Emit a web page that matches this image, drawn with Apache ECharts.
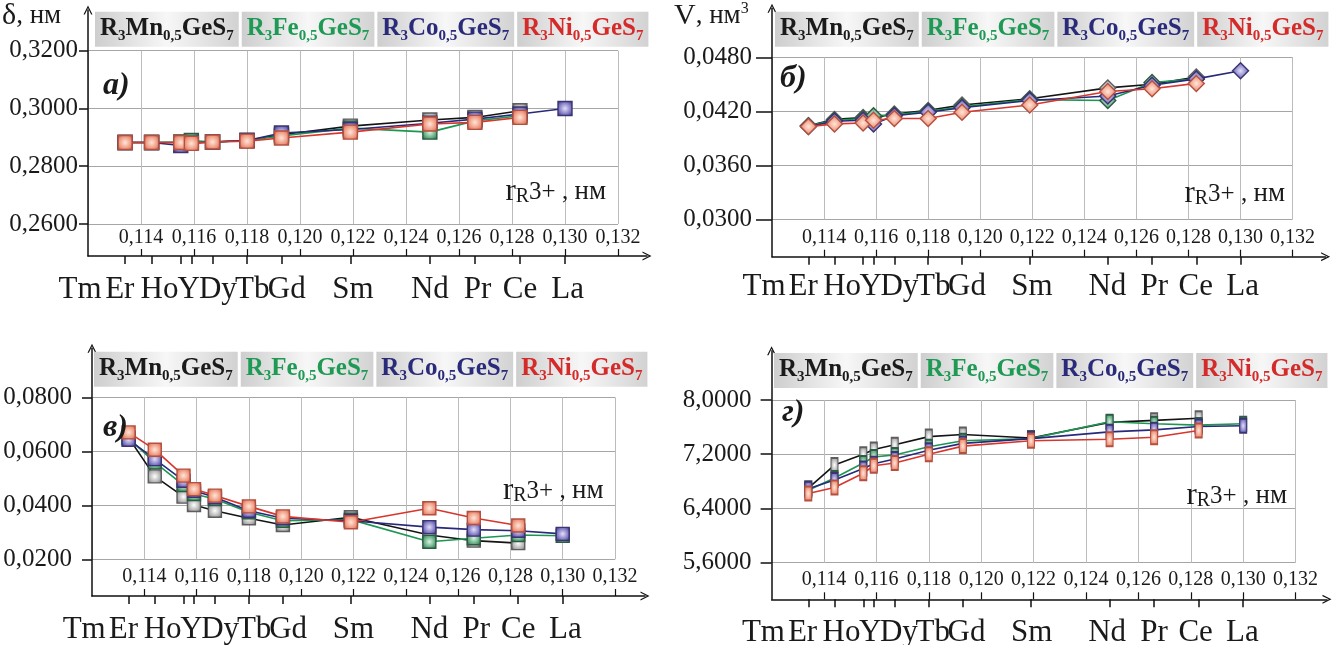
<!DOCTYPE html>
<html><head><meta charset="utf-8">
<script src="https://cdn.jsdelivr.net/npm/echarts@6/dist/echarts.min.js"></script>
<style>html,body{margin:0;padding:0;background:#fff;}#c{width:1344px;height:645px;}</style>
</head><body><div id="c"></div>
<script>
// ---------------- data ----------------
const elements = ['Tm','Er','Ho','Y','Dy','Tb','Gd','Sm','Nd','Pr','Ce','La'];
const ionicRadius = [0.1134,0.1144,0.1155,0.1159,0.1167,0.1180,0.1193,0.1219,0.1249,0.1266,0.1283,0.1300];
const radiusTicks = [0.114,0.116,0.118,0.120,0.122,0.124,0.126,0.128,0.130,0.132];
const metals = ['Mn','Fe','Co','Ni'];

// panel а: δ, нм
const deltaTicks = [0.26,0.28,0.30,0.32];
const deltaMn = [0.2882,0.2882,0.2882,0.2882,0.2884,0.2889,0.2909,0.2939,0.2960,0.2969,0.2992,null];
const deltaFe = [0.2882,0.2882,0.2884,0.2889,0.2884,0.2889,0.2905,0.2932,0.2918,0.2957,0.2975,null];
const deltaCo = [0.2882,0.2882,0.2872,0.2880,0.2884,0.2889,0.2915,0.2927,0.2949,0.2963,0.2981,0.3000];
const deltaNi = [0.2882,0.2882,0.2882,0.2879,0.2884,0.2887,0.2898,0.2918,0.2946,0.2952,0.2969,null];

// panel б: V, нм3
const volTicks = [0.030,0.036,0.042,0.048];
const volMn = [0.0404,0.0411,0.0413,0.0413,0.0417,0.0421,0.0427,0.0434,0.0446,0.0450,0.0458,null];
const volFe = [0.0404,0.0410,0.0412,0.0415,0.0416,0.0420,0.0425,0.0433,0.0432,0.0452,0.0456,null];
const volCo = [0.0403,0.0409,0.0410,0.0406,0.0415,0.0419,0.0424,0.0432,0.0437,0.0449,0.0456,0.0465];
const volNi = [0.0403,0.0406,0.0407,0.0410,0.0412,0.0412,0.0419,0.0427,0.0442,0.0445,0.0451,null];

// panel в
const cTicks = [0.02,0.04,0.06,0.08];
const cMn = [0.0650,0.0507,0.0432,0.0401,0.0380,0.0352,0.0327,0.0356,0.0290,0.0269,0.0260,null];
const cFe = [0.0648,0.0559,0.0475,0.0442,0.0423,0.0374,0.0343,0.0347,0.0265,0.0278,0.0290,0.0287];
const cCo = [0.0643,0.0571,0.0491,0.0454,0.0430,0.0380,0.0352,0.0343,0.0319,0.0310,0.0306,0.0294];
const cNi = [0.0670,0.0606,0.0510,0.0460,0.0436,0.0396,0.0359,0.0337,0.0389,0.0353,0.0325,null];

// panel г
const dTicks = [5.6,6.4,7.2,8.0];
const dMn = [6.70,7.04,7.20,7.27,7.34,7.46,7.49,7.44,7.67,7.70,7.73,null];
const dFe = [6.67,6.85,7.07,7.16,7.19,7.31,7.40,7.43,7.68,7.65,7.63,7.65];
const dCo = [6.69,6.82,6.99,7.06,7.13,7.26,7.36,7.43,7.53,7.56,7.61,7.62];
const dNi = [6.62,6.71,6.92,7.03,7.07,7.20,7.32,7.40,7.42,7.45,7.55,null];

// ---------------- layout / style ----------------
const FONT = '"Liberation Serif","Times New Roman",serif';
const X_MIN = 0.112, X_MAX = 0.132, LAB_MIN = 0.110, LAB_MAX = 0.134;
const elementLabelAt = [0.1117,0.1132,0.1147,0.1158,0.1169,0.1182,0.1195,0.1220,0.1249,0.1267,0.1283,0.1301];
const lineColors = ['#141414','#1c9650','#28287c','#d8352c'];
const textColors = ['#1a1a1a','#1e9a55','#2a2a7a','#d42a2a'];
const markerFill = [['#ffffff','#a8a8a8','#5e5e5e'],['#d8f4e2','#4f9f70','#2f5a45'],['#e2defa','#7068b8','#3a3472'],['#ffe6d8','#ec8c72','#b45040']];
const ARROW = 'path://M0,12 L6,0 L12,12 L10.2,12 L6,3.4 L1.8,12 Z';
const GRID_COLOR = '#bcbcbc';

const panels = [
  {letter:'а)', ticks:deltaTicks, data:[deltaMn,deltaFe,deltaCo,deltaNi], symbol:'rect', symbolSize:14,
   x0:88, x1:618, yTop:50.7, yBot:224, axisY:256, arrowTop:10, arrowRight:647,
   yLabelMargin:10, yTickLen:9, xLabelMargin:4, elemLabelMargin:18,
   legendX:95, legendY:11.7, rRight:606, rBase:201, letterX:103, letterBase:95,
   yName:{text:'{a|δ}{b|, нм}', x:2, base:25}},
  {letter:'б)', ticks:volTicks, data:[volMn,volFe,volCo,volNi], symbol:'diamond', symbolSize:16,
   x0:772, x1:1292.6, yTop:57.3, yBot:219.3, axisY:256.7, arrowTop:8.3, arrowRight:1325.6,
   yLabelMargin:20, yTickLen:16, xLabelMargin:8, elemLabelMargin:15,
   legendX:775, legendY:11.7, rRight:1285, rBase:203, letterX:780, letterBase:88,
   yName:{text:'{a|V}{b|, нм}{c|3}', x:674, base:25}},
  {letter:'в)', ticks:cTicks, data:[cMn,cFe,cCo,cNi], symbol:'rect', symbolSize:13,
   x0:92, x1:615, yTop:397.3, yBot:559.3, axisY:596, arrowTop:348.3, arrowRight:645,
   yLabelMargin:20, yTickLen:10, xLabelMargin:7, elemLabelMargin:19,
   legendX:94, legendY:351.7, rRight:603.5, rBase:500, letterX:103, letterBase:437, yName:null},
  {letter:'г)', ticks:dTicks, data:[dMn,dFe,dCo,dNi], symbol:'rect', symbolSize:[7,14],
   x0:771.6, x1:1295.6, yTop:400, yBot:562.7, axisY:599.3, arrowTop:350.7, arrowRight:1327,
   yLabelMargin:20, yTickLen:11, xLabelMargin:7, elemLabelMargin:19,
   legendX:774, legendY:353, rRight:1287, rBase:505, letterX:782, letterBase:422, yName:null}
];

const fmt = (v, d) => v.toFixed(d).replace('.', ',');
const nearest = (arr, v) => { let b = 0; arr.forEach((a, i) => { if (Math.abs(a - v) < Math.abs(arr[b] - v)) b = i; }); return b; };
const mctx = document.createElement('canvas').getContext('2d');
const tw = (s, size) => { mctx.font = 'bold ' + size + 'px ' + FONT; return mctx.measureText(s).width; };

const grids = [], xAxes = [], yAxes = [], series = [], graphics = [];
const axisLineStyle = {color:'#111', width:1.5};

panels.forEach((P) => {
  const yMin = P.ticks[0], yMax = P.ticks[P.ticks.length - 1];
  const yInt = P.ticks[1] - P.ticks[0];
  const sx = (P.x1 - P.x0) / (X_MAX - X_MIN);
  const sy = (P.yBot - P.yTop) / (yMax - yMin);

  // plot grid
  const gPlot = grids.length;
  grids.push({left:P.x0, top:P.yTop, width:P.x1 - P.x0, height:P.yBot - P.yTop});
  const xPlot = xAxes.length;
  xAxes.push({gridIndex:gPlot, type:'value', min:X_MIN, max:X_MAX, interval:0.002,
    axisLine:{show:false}, axisTick:{show:false},
    splitLine:{show:true, lineStyle:{color:GRID_COLOR, width:1}},
    axisLabel:{customValues:radiusTicks, formatter:v => fmt(v, 3), margin:P.xLabelMargin,
      fontFamily:FONT, fontSize:20, color:'#1a1a1a'}});
  const yPlot = yAxes.length;
  yAxes.push({gridIndex:gPlot, type:'value', min:yMin, max:yMax, interval:yInt,
    axisLine:{show:false}, axisTick:{show:false},
    splitLine:{show:true, lineStyle:{color:'#a6a6a6', width:1}},
    axisLabel:{formatter:v => fmt(v, 4), margin:P.yLabelMargin, fontFamily:FONT, fontSize:25, color:'#1a1a1a'}});

  // axis grid (arrows + ticks)
  const axMax = X_MIN + (P.arrowRight - P.x0) / sx;
  const ayMin = yMin - (P.axisY - P.yBot) / sy;
  const ayMax = yMax + (P.yTop - P.arrowTop) / sy;
  const gAx = grids.length;
  grids.push({left:P.x0, top:P.arrowTop, width:P.arrowRight - P.x0, height:P.axisY - P.arrowTop});
  xAxes.push({gridIndex:gAx, type:'value', position:'bottom', min:X_MIN, max:axMax,
    axisLine:{show:true, symbol:['none', ARROW], symbolSize:[9, 12], lineStyle:axisLineStyle},
    axisTick:{show:true, customValues:ionicRadius, length:8, inside:false, lineStyle:axisLineStyle},
    axisLabel:{show:false}, splitLine:{show:false}});
  xAxes.push({gridIndex:gAx, type:'value', position:'bottom', min:X_MIN, max:axMax,
    axisLine:{show:false},
    axisTick:{show:true, customValues:radiusTicks, length:7, inside:true, lineStyle:{color:'#111', width:1.2}},
    axisLabel:{show:false}, splitLine:{show:false}});
  yAxes.push({gridIndex:gAx, type:'value', min:ayMin, max:ayMax,
    axisLine:{show:true, symbol:['none', ARROW], symbolSize:[9, 12], lineStyle:axisLineStyle},
    axisTick:{show:true, customValues:P.ticks, length:P.yTickLen, inside:false, lineStyle:axisLineStyle},
    axisLabel:{show:false}, splitLine:{show:false}});

  // element label grid
  const gLab = grids.length;
  grids.push({left:P.x0 - (X_MIN - LAB_MIN) * sx, top:P.axisY - 1, width:(LAB_MAX - LAB_MIN) * sx, height:1});
  xAxes.push({gridIndex:gLab, type:'value', min:LAB_MIN, max:LAB_MAX,
    axisLine:{show:false}, axisTick:{show:false}, splitLine:{show:false},
    axisLabel:{customValues:elementLabelAt, formatter:v => elements[nearest(elementLabelAt, v)],
      margin:P.elemLabelMargin, fontFamily:FONT, fontSize:31, color:'#1a1a1a'}});
  yAxes.push({gridIndex:gLab, type:'value', show:false});

  // series
  metals.forEach((m, k) => {
    const f = markerFill[k];
    series.push({
      type:'line', name:'R3' + m + '0,5GeS7', xAxisIndex:xPlot, yAxisIndex:yPlot,
      data:ionicRadius.map((r, i) => [r, P.data[k][i]]),
      symbol:P.symbol, symbolSize:P.symbolSize, showAllSymbol:true, animation:false,
      lineStyle:{color:lineColors[k], width:1.6},
      itemStyle:{color:{type:'radial', x:0.5, y:0.5, r:0.6,
        colorStops:[{offset:0, color:f[0]}, {offset:0.75, color:f[1]}, {offset:1, color:f[2]}]},
        borderColor:f[2], borderWidth:1.4},
      z:2 + k
    });
  });

  // legend boxes
  let lx = P.legendX;
  metals.forEach((m, k) => {
    const w = tw('R', 25) + tw(m, 25) + tw('GeS', 25) + tw('3', 15) + tw('0,5', 15) + tw('7', 15) + 10;
    graphics.push({type:'text', x:lx, y:P.legendY, z:10,
      style:{text:'R{s|3}' + m + '{s|0,5}GeS{s|7}', fill:textColors[k],
        fontFamily:FONT, fontSize:25, fontWeight:'bold', lineHeight:30,
        verticalAlign:'top', textAlign:'left', padding:[2, 5, 3, 5],
        backgroundColor:new echarts.graphic.LinearGradient(0, 0, 1, 0, [
          {offset:0, color:'#cecece'}, {offset:0.5, color:'#f7f7f7'}, {offset:1, color:'#d2d2d2'}]),
        rich:{s:{fontFamily:FONT, fontSize:15, fontWeight:'bold', fill:textColors[k], verticalAlign:'bottom', lineHeight:12}}}});
    lx += w + 3;
  });

  // r_R3+ label
  graphics.push({type:'text', x:P.rRight, y:P.rBase + 6, z:10,
    style:{text:'{a|r}{b|R}{c|3+ , }{d|нм}', textAlign:'right', verticalAlign:'bottom', lineHeight:30,
      fontFamily:FONT, fontSize:24, fill:'#1a1a1a',
      rich:{a:{fontFamily:FONT, fontSize:31, lineHeight:30},
            b:{fontFamily:FONT, fontSize:20, verticalAlign:'bottom', lineHeight:12},
            c:{fontFamily:FONT, fontSize:25, lineHeight:30},
            d:{fontFamily:FONT, fontSize:27, lineHeight:30}}}});

  // panel letter
  graphics.push({type:'text', x:P.letterX, y:P.letterBase + 6, z:10,
    style:{text:P.letter, fontFamily:FONT, fontSize:32, fontWeight:'bold', fontStyle:'italic',
      fill:'#1a1a1a', verticalAlign:'bottom', lineHeight:30}});

  // y axis name
  if (P.yName) {
    graphics.push({type:'text', x:P.yName.x, y:P.yName.base + 6, z:10,
      style:{text:P.yName.text, verticalAlign:'bottom', lineHeight:30, fill:'#1a1a1a', fontFamily:FONT, fontSize:26,
        rich:{a:{fontFamily:FONT, fontSize:30, lineHeight:30},
              b:{fontFamily:FONT, fontSize:27, lineHeight:30},
              c:{fontFamily:FONT, fontSize:16, verticalAlign:'top', lineHeight:16}}}});
  }
});

const chart = echarts.init(document.getElementById('c'), null, {renderer:'canvas'});
chart.setOption({animation:false, backgroundColor:'#ffffff', grid:grids, xAxis:xAxes, yAxis:yAxes, series:series, graphic:graphics});
</script></body></html>
